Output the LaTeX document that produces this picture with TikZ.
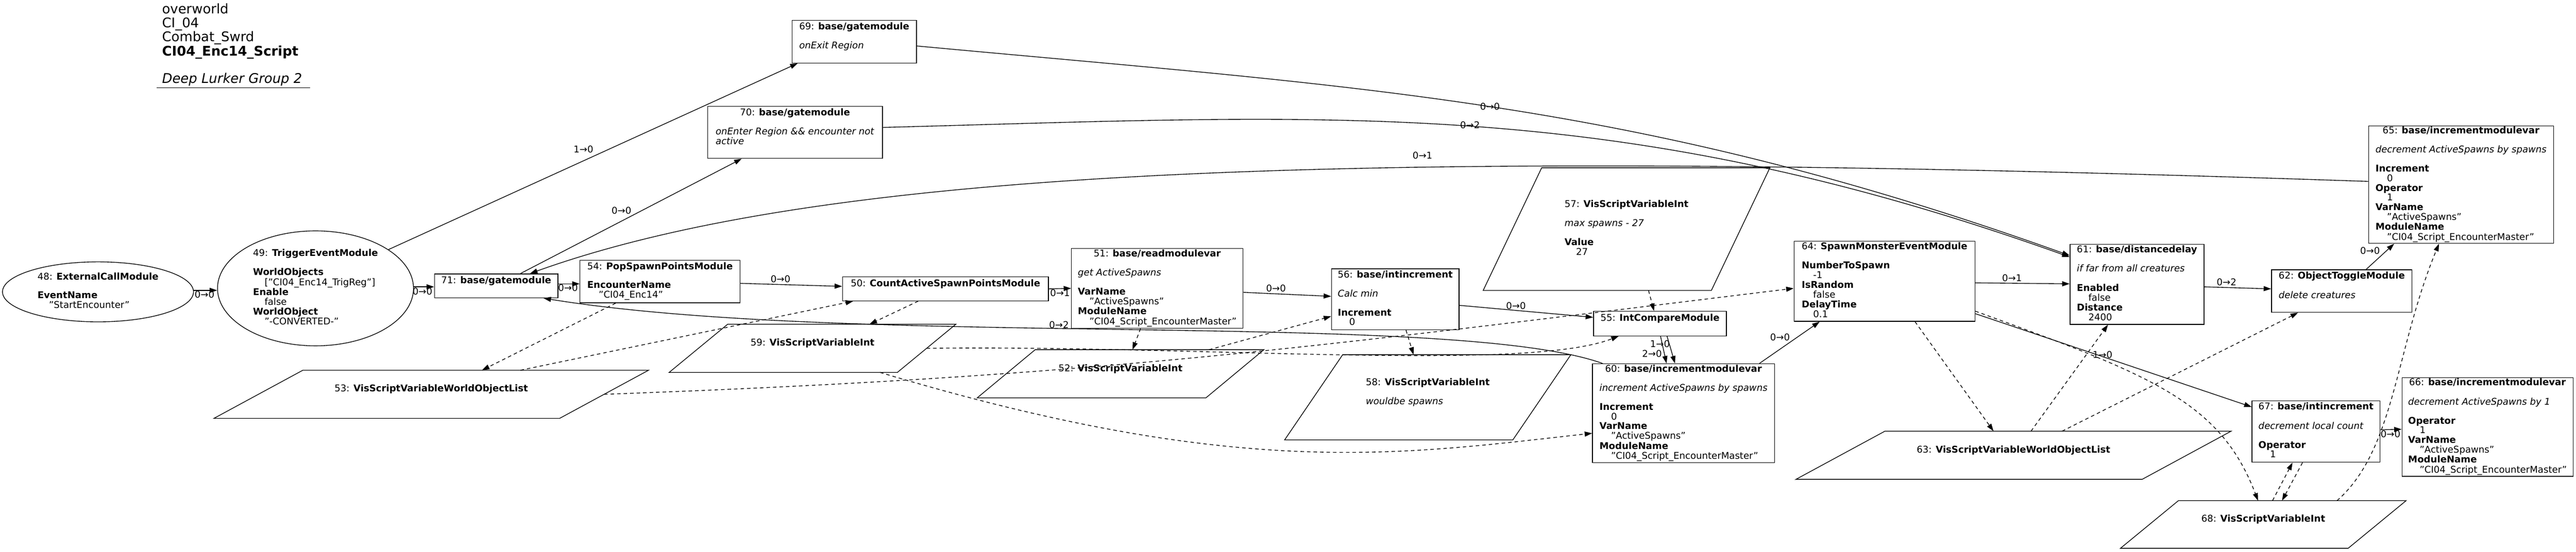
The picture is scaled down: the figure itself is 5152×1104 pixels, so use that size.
\documentclass[tikz,border=0pt]{standalone}
\usepackage{fontspec}
\setmainfont{DejaVu Sans}
\usetikzlibrary{shapes.geometric,arrows.meta}
\newcommand\ind{\hspace*{23pt}}
\newcommand\hd[2]{\multicolumn{1}{@{}c@{}}{#1: \textbf{#2}}}
\newcommand\tb[1]{\begin{tabular}{@{}l@{}}#1\end{tabular}}
\newcommand\paranode[7]{%
  \node[ptxt, minimum width=#4pt, minimum height=#5pt] (#1) at (#2,#3) {#7};
  \draw[pline] ([xshift=#6pt]#1.north west) -- ([xshift=#6pt]#1.north east)
     -- ([xshift=-#6pt]#1.south east) -- ([xshift=-#6pt]#1.south west) -- cycle;}
\tikzset{
  basefont/.style={font=\fontsize{18.67}{18.67}\selectfont},
  box/.style={basefont, draw, line width=1.4pt, rectangle, inner sep=0pt},
  ell/.style={basefont, draw, line width=1.4pt, ellipse, inner sep=0pt},
  ptxt/.style={basefont, inner sep=0pt},
  pline/.style={line width=1.4pt, line join=miter},
  lbl/.style={basefont, inner sep=0pt},
  edge/.style={line width=1.4pt, -{Triangle[length=15pt,width=10pt]}},
  dedge/.style={edge, dash pattern=on 7pt off 6pt},
}
\begin{document}
\begin{tikzpicture}[x=1pt,y=-1pt]
\useasboundingbox (0,0) rectangle (5152,1104);

% title
\node[anchor=north west, inner sep=0pt, font=\fontsize{26.67}{26.67}\selectfont] (title) at (324,6.7)
 {\tb{overworld\\ CI\_04\\ Combat\_Swrd\\ \textbf{CI04\_Enc14\_Script}\\ \\ \textit{Deep Lurker Group 2}}};
\draw[line width=1.4pt] (313,176) -- (620,176);

% ellipses
\node[ell, minimum width=382pt, minimum height=120pt] (n48) at (196,584)
 {\tb{48: \textbf{ExternalCallModule}\\ \\ \textbf{EventName}\\ \ind"StartEncounter"}};
\node[ell, minimum width=392pt, minimum height=230pt] (n49) at (631,577)
 {\tb{49: \textbf{TriggerEventModule}\\ \\ \textbf{WorldObjects}\\ \ind["CI04\_Enc14\_TrigReg"]\\ \textbf{Enable}\\ \ind false\\ \textbf{WorldObject}\\ \ind"-CONVERTED-"}};

% boxes
\node[box, minimum width=247pt, minimum height=48pt] (n71) at (992.5,572)
 {\tb{\hd{71}{base/gatemodule}\\ \\}};
\node[box, minimum width=320pt, minimum height=85pt] (n54) at (1320,563.5)
 {\tb{\hd{54}{PopSpawnPointsModule}\\ \\ \textbf{EncounterName}\\ \ind"CI04\_Enc14"}};
\node[box, minimum width=412pt, minimum height=48pt] (n50) at (1891,578)
 {\tb{\hd{50}{CountActiveSpawnPointsModule}\\ \\}};
\node[box, minimum width=343pt, minimum height=160pt] (n51) at (2314.5,577)
 {\tb{\hd{51}{base/readmodulevar}\\ \\ \textit{get ActiveSpawns}\\ \\ \textbf{VarName}\\ \ind"ActiveSpawns"\\ \textbf{ModuleName}\\ \ind"CI04\_Script\_EncounterMaster"}};
\node[box, minimum width=255pt, minimum height=122pt] (n56) at (2790.5,599)
 {\tb{\hd{56}{base/intincrement}\\ \\ \textit{Calc min}\\ \\ \textbf{Increment}\\ \ind 0}};
\node[box, minimum width=266pt, minimum height=49pt] (n55) at (3320,647.5)
 {\tb{\hd{55}{IntCompareModule}\\ \\}};
\node[box, minimum width=364pt, minimum height=198pt] (n60) at (3367,827)
 {\tb{\hd{60}{base/incrementmodulevar}\\ \\ \textit{increment ActiveSpawns by spawns}\\ \\ \textbf{Increment}\\ \ind 0\\ \textbf{VarName}\\ \ind"ActiveSpawns"\\ \textbf{ModuleName}\\ \ind"CI04\_Script\_EncounterMaster"}};
\node[box, minimum width=362pt, minimum height=160pt] (n64) at (3769,563)
 {\tb{\hd{64}{SpawnMonsterEventModule}\\ \\ \textbf{NumberToSpawn}\\ \ind -1\\ \textbf{IsRandom}\\ \ind false\\ \textbf{DelayTime}\\ \ind 0.1}};
\node[box, minimum width=268pt, minimum height=160pt] (n61) at (4274,569)
 {\tb{\hd{61}{base/distancedelay}\\ \\ \textit{if far from all creatures}\\ \\ \textbf{Enabled}\\ \ind false\\ \textbf{Distance}\\ \ind 2400}};
\node[box, minimum width=281pt, minimum height=85pt] (n62) at (4683.5,582.5)
 {\tb{\hd{62}{ObjectToggleModule}\\ \\ \textit{delete creatures}\\ \\}};
\node[box, minimum width=370pt, minimum height=235pt] (n65) at (4922,369.5)
 {\tb{\hd{65}{base/incrementmodulevar}\\ \\ \textit{decrement ActiveSpawns by spawns}\\ \\ \textbf{Increment}\\ \ind 0\\ \textbf{Operator}\\ \ind 1\\ \textbf{VarName}\\ \ind"ActiveSpawns"\\ \textbf{ModuleName}\\ \ind"CI04\_Script\_EncounterMaster"}};
\node[box, minimum width=342pt, minimum height=197pt] (n66) at (4975,854.5)
 {\tb{\hd{66}{base/incrementmodulevar}\\ \\ \textit{decrement ActiveSpawns by 1}\\ \\ \textbf{Operator}\\ \ind 1\\ \textbf{VarName}\\ \ind"ActiveSpawns"\\ \textbf{ModuleName}\\ \ind"CI04\_Script\_EncounterMaster"}};
\node[box, minimum width=256pt, minimum height=123pt] (n67) at (4632,863.5)
 {\tb{\hd{67}{base/intincrement}\\ \\ \textit{decrement local count}\\ \\ \textbf{Operator}\\ \ind 1}};
\node[box, minimum width=249pt, minimum height=85pt] (n69) at (1708.5,83.5)
 {\tb{\hd{69}{base/gatemodule}\\ \\ \textit{onExit Region}\\ \\}};
\node[box, minimum width=350pt, minimum height=104pt] (n70) at (1590,265)
 {\tb{\hd{70}{base/gatemodule}\\ \\ \textit{onEnter Region \&\& encounter not}\\ \textit{active}\\ \\}};

% parallelograms
\paranode{p53}{862.5}{789}{691}{96}{89}{\tb{53: \textbf{VisScriptVariableWorldObjectList}\\ \\}}
\paranode{p59}{1625}{697}{456}{96}{58.5}{\tb{59: \textbf{VisScriptVariableInt}\\ \\}}
\paranode{p52}{2241}{748}{457}{96}{58}{\tb{52: \textbf{VisScriptVariableInt}\\ \\}}
\paranode{p58}{2855.5}{795}{456}{170}{58}{\tb{58: \textbf{VisScriptVariableInt}\\ \\ \textit{wouldbe spawns}\\ \\}}
\paranode{p57}{3253}{458.5}{456}{245}{58.5}{\tb{57: \textbf{VisScriptVariableInt}\\ \\ \textit{max spawns - 27}\\ \\ \textbf{Value}\\ \ind 27}}
\paranode{p63}{4027}{911}{692}{96}{89}{\tb{63: \textbf{VisScriptVariableWorldObjectList}\\ \\}}
\paranode{p68}{4526.5}{1049.5}{455}{95}{58}{\tb{68: \textbf{VisScriptVariableInt}\\ \\}}

% solid connectors
\draw[edge] ([yshift=3pt]n48.east) -- ([yshift=-4pt]n49.west);
\draw[edge] ([yshift=3pt]n49.east) -- ([yshift=-2pt]n71.west);
\draw[edge] (n49.28) -- ([xshift=12pt]n69.south west);
\draw[edge] ([xshift=48.5pt]n71.north) -- ([xshift=69pt]n70.south west);
\draw[edge] ([yshift=4pt]n71.east) -- ([yshift=-4.5pt]n54.west);
\draw[edge] ([yshift=-3.5pt]n54.east) -- ([yshift=5pt]n50.west);
\draw[edge] (n50.east) -- (n51.west);
\draw[edge] ([yshift=-8pt]n51.east) -- ([yshift=6pt]n56.west);
\draw[edge] ([yshift=-12pt]n56.east) -- ([yshift=12.5pt]n55.west);
\draw[edge] ([xshift=14pt]n55.south) -- ([xshift=-17pt]n60.north);
\draw[edge] ([xshift=1pt]n55.south) -- ([xshift=-34pt]n60.north);
\draw[edge] ([xshift=-31pt]n60.north east) -- ([xshift=52pt]n64.south west);
\draw[edge] ([yshift=-3pt]n64.east) -- ([yshift=1pt]n61.west);
\draw[edge] ([yshift=-5pt]n61.east) -- ([yshift=4.5pt]n62.west);
\draw[edge] ([xshift=48.5pt]n62.north) -- ([xshift=52pt]n65.south west);
\draw[edge] ([yshift=3.5pt]n67.east) -- ([yshift=-4.5pt]n66.west);
\draw[edge] ([yshift=16pt]n64.south east) -- ([yshift=-13pt]n67.north west);
\draw[edge] ([yshift=-8.5pt]n69.east) .. controls (2737,176) and (3273,201) .. ([yshift=-23pt]n61.north west);
\draw[edge] ([yshift=10pt]n70.east) .. controls (2670,231) and (3230,189) .. ([yshift=-26pt]n61.north west);
\draw[edge] ([yshift=6.5pt]n65.west) .. controls (2737,295) and (1660,332) .. ([xshift=67.5pt]n71.north);
\draw[edge] ([xshift=21pt]n60.north west) .. controls (2906,620) and (1705,697) .. ([xshift=94.5pt]n71.south);

% dashed connectors
\draw[dedge] ([xshift=72pt]n54.south west) -- ([xshift=101.5pt]p53.north);
\draw[dedge] ([xshift=178.5pt]p53.north) -- ([xshift=22pt]n50.south west);
\draw[dedge] ([xshift=152pt]n50.south west) -- ([xshift=114pt]p59.north);
\draw[dedge] ([xshift=-33.5pt]n51.south) -- ([xshift=24pt]p52.north);
\draw[dedge] ([xshift=177pt]p52.north) -- ([yshift=-34pt]n56.west);
\draw[dedge] ([xshift=21.5pt]n56.south) -- ([xshift=-28.5pt]p58.north);
\draw[dedge] ([xshift=44pt]p57.south) -- ([xshift=-12pt]n55.north);
\draw[dedge] (p53.east) .. controls (2200,753) and (2596,698) .. ([yshift=-14pt]n64.west);
\draw[dedge] (p59.east) .. controls (2400,690) and (3050,745) .. ([xshift=51pt]n55.south west);
\draw[dedge] ([xshift=135pt]p59.south) .. controls (2482,962) and (2803,909) .. ([yshift=-40pt]n60.west);
\draw[dedge] ([xshift=61pt]n64.south) -- ([xshift=-40pt]p63.north);
\draw[dedge] ([xshift=35pt]p63.north) -- ([xshift=-58pt]n61.south);
\draw[dedge] ([xshift=97pt]p63.north) -- ([xshift=-87.5pt]n62.south);
\draw[dedge] ([yshift=21pt]n64.south east) .. controls (4300,750) and (4440,802) .. ([xshift=-10.5pt]p68.north);
\draw[dedge] ([xshift=-27pt]n67.south) -- ([xshift=37.5pt]p68.north);
\draw[dedge] ([xshift=18.5pt]p68.north) -- ([xshift=-47pt]n67.south);
\draw[dedge] ([xshift=147.5pt]p68.north) .. controls (4790,900) and (4790,700) .. ([xshift=-44pt]n65.south);

% labels
\node[lbl] (l1) at (409,589) {0→0};
\node[lbl] (l2) at (845,583) {0→0};
\node[lbl] (l3) at (1167,299) {1→0};
\node[lbl] (l4) at (1243,421) {0→0};
\node[lbl] (l5) at (1136,576) {0→0};
\node[lbl] (l6) at (1561,558) {0→0};
\node[lbl] (l7) at (2120,586) {0→1};
\node[lbl] (l8) at (2552,577) {0→0};
\node[lbl] (l9) at (3032,612) {0→0};
\node[lbl] (l10) at (3320,688) {1→0};
\node[lbl] (l11) at (3304,708) {2→0};
\node[lbl] (l12) at (3560,675) {0→0};
\node[lbl] (l13) at (4024,556) {0→1};
\node[lbl] (l14) at (4453,565) {0→2};
\node[lbl] (l15) at (4740,502) {0→0};
\node[lbl] (l16) at (4781,868) {0→0};
\node[lbl] (l17) at (4205,710) {1→0};
\node[lbl] (l18) at (2980,213) {0→0};
\node[lbl] (l19) at (2940,250) {0→2};
\node[lbl] (l20) at (2845,311) {0→1};
\node[lbl] (l21) at (2118,650) {0→2};
\end{tikzpicture}
\end{document}
